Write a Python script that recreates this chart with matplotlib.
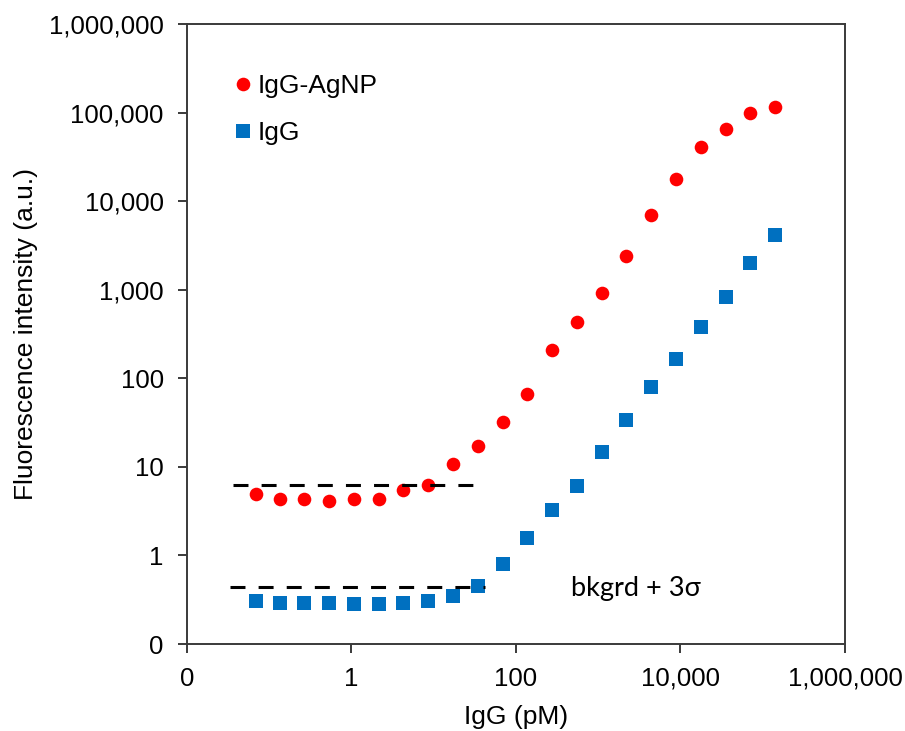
import matplotlib
matplotlib.use("Agg")
import matplotlib.pyplot as plt
from matplotlib.ticker import FixedLocator, FixedFormatter, NullLocator

# ---- data ----
conc_pM = [0.069, 0.135, 0.27, 0.54, 1.08, 2.16, 4.3, 8.6, 17.3, 34.6, 69,
           138, 277, 553, 1110, 2210, 4430, 8860, 17700, 35400, 70800, 141700]
igg_agnp = [4.96, 4.35, 4.35, 4.16, 4.35, 4.35, 5.41, 6.31, 10.8, 17.0, 32.1,
            66, 208, 432, 912, 2430, 6900, 17800, 41100, 65800, 99700, 116600]
igg = [0.307, 0.289, 0.289, 0.289, 0.282, 0.282, 0.289, 0.307, 0.347, 0.446,
       0.80, 1.57, 3.27, 6.04, 14.7, 34.1, 78.7, 163, 376, 822, 1995, 4175]

bkg_agnp_x = [0.037, 30]
bkg_agnp_y = [6.3, 6.3]
bkg_igg_x = [0.0334, 42]
bkg_igg_y = [0.443, 0.443]

x_ticks = [0.01, 1, 100, 1e4, 1e6]
x_tick_labels = ["0", "1", "100", "10,000", "1,000,000"]
y_ticks = [0.1, 1, 10, 100, 1e3, 1e4, 1e5, 1e6]
y_tick_labels = ["0", "1", "10", "100", "1,000", "10,000", "100,000", "1,000,000"]

series_labels = ["IgG-AgNP", "IgG"]
annotation = "bkgrd + 3σ"

RED = "#FF0000"
BLUE = "#0070C0"
AXC = "#3A3A3A"

plt.rcParams["font.family"] = ["Liberation Sans", "DejaVu Sans"]

fig = plt.figure(figsize=(9.05, 7.31), dpi=100)
ax = fig.add_axes([0.2063, 0.1190, 0.7274, 0.8482])

ax.set_xscale("log")
ax.set_yscale("log")
ax.set_xlim(0.01, 1e6)
ax.set_ylim(0.1, 1e6)

ax.plot(conc_pM, igg_agnp, linestyle="none", marker="o", markersize=9.8,
        markerfacecolor=RED, markeredgewidth=0, color=RED,
        label=series_labels[0], zorder=3)
ax.plot(conc_pM, igg, linestyle="none", marker="s", markersize=9.8,
        markerfacecolor=BLUE, markeredgewidth=0, color=BLUE,
        label=series_labels[1], zorder=3)

ax.plot(bkg_agnp_x, bkg_agnp_y, color="black", lw=2.2,
        linestyle=(0, (4.9, 4.3)), zorder=4)
ax.plot(bkg_igg_x, bkg_igg_y, color="black", lw=2.2,
        linestyle=(0, (4.9, 4.3)), zorder=4)

ax.text(470, 0.35, annotation, fontsize=19.5, family=["Lato", "DejaVu Sans"],
        color="black", ha="left", va="baseline")

ax.xaxis.set_major_locator(FixedLocator(x_ticks))
ax.xaxis.set_major_formatter(FixedFormatter(x_tick_labels))
ax.xaxis.set_minor_locator(NullLocator())
ax.yaxis.set_major_locator(FixedLocator(y_ticks))
ax.yaxis.set_major_formatter(FixedFormatter(y_tick_labels))
ax.yaxis.set_minor_locator(NullLocator())

ax.tick_params(axis="both", which="major", direction="out", length=6.5,
               width=1.4, color=AXC, labelsize=18.5, labelcolor="black", pad=10)
for s in ax.spines.values():
    s.set_color(AXC)
    s.set_linewidth(1.4)

ax.set_xlabel("IgG (pM)", fontsize=19, labelpad=10)
ax.set_ylabel("Fluorescence intensity (a.u.)", fontsize=19, labelpad=8)

leg = ax.legend(loc="upper left", bbox_to_anchor=(0.073, 0.919), frameon=False,
                fontsize=19, numpoints=1, handlelength=0.6, handletextpad=0.25,
                labelspacing=0.87, borderpad=0, borderaxespad=0)

fig.savefig("out.png", dpi=100)
